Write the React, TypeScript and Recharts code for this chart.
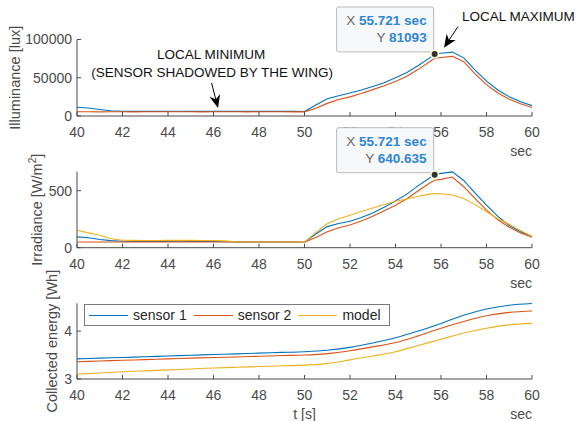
import { LineChart, Line, XAxis, YAxis, ReferenceDot, Legend } from 'recharts'

// time axis for the illuminance / irradiance panels (sec)
const time = [
	40, 40.5, 41, 41.5, 42, 42.5, 43, 43.5, 44, 44.5, 45, 45.5, 46, 46.5, 47, 47.5, 48, 48.5, 49, 49.5,
	50, 50.5, 51, 51.5, 52, 52.5, 53, 53.5, 54, 54.5, 55, 55.5, 55.721, 56, 56.5, 57, 57.5, 58, 58.5, 59, 59.5, 60,
]
const lux1 = [
	11400, 10500, 8500, 6800, 6200, 6100, 6000, 6100, 6000, 6200, 6100, 6000, 6000, 6100, 6000, 6000, 6100, 6000, 6000, 6000,
	5800, 14500, 22500, 26500, 30000, 34000, 38500, 43500, 50000, 57000, 66000, 76000, 81093, 82000, 83500, 76000, 60000, 45500, 34000, 25000, 18500, 13500,
]
const lux2 = [
	5500, 5500, 5400, 5500, 5500, 5400, 5500, 5500, 5600, 5500, 5500, 5400, 5500, 5500, 5500, 5400, 5500, 5500, 5500, 5400,
	5400, 10000, 16500, 21500, 25000, 29500, 34500, 39500, 45000, 52000, 61000, 71000, 75400, 76500, 78000, 71000, 55000, 41000, 30000, 22000, 16000, 11000,
]
const irr1 = [
	95, 88, 72, 62, 56, 55, 55, 55, 55, 56, 55, 55, 55, 52, 50, 50, 50, 50, 50, 50,
	48, 120, 185, 212, 232, 265, 305, 355, 410, 470, 545, 612, 640.635, 652, 665, 590, 480, 373, 275, 195, 140, 100,
]
const irr2 = [
	50, 50, 50, 50, 50, 50, 50, 50, 50, 50, 50, 50, 50, 50, 50, 50, 50, 50, 50, 50,
	48, 90, 140, 175, 200, 235, 275, 325, 372, 430, 500, 568, 592, 600, 620, 535, 430, 330, 245, 180, 130, 92,
]
const irrModel = [
	153, 130, 110, 78, 66, 64, 63, 63, 64, 66, 64, 63, 63, 60, 52, 50, 50, 50, 50, 50,
	48, 135, 210, 255, 285, 318, 348, 380, 408, 428, 452, 470, 475, 473, 463, 432, 378, 315, 255, 205, 150, 100,
]

// collected energy panel
const energyTime = [40, 41, 42, 43, 44, 45, 46, 47, 48, 49, 50, 51, 52, 53, 54, 55, 56, 57, 58, 59, 60]
const energy1 = [3.42, 3.435, 3.45, 3.465, 3.48, 3.495, 3.51, 3.525, 3.54, 3.555, 3.57, 3.6, 3.66, 3.75, 3.86, 4.0, 4.16, 4.33, 4.46, 4.54, 4.575]
const energy2 = [3.36, 3.375, 3.39, 3.405, 3.42, 3.435, 3.45, 3.46, 3.475, 3.49, 3.5, 3.53, 3.59, 3.67, 3.76, 3.9, 4.06, 4.2, 4.32, 4.39, 4.42]
const energyModel = [3.1, 3.125, 3.15, 3.17, 3.19, 3.21, 3.23, 3.245, 3.26, 3.275, 3.29, 3.32, 3.4, 3.48, 3.57, 3.7, 3.83, 3.96, 4.06, 4.13, 4.16]

const timeTicks = [40, 42, 44, 46, 48, 50, 52, 54, 56, 58, 60]
const luxTicks = [0, 50000, 100000]
const irrTicks = [0, 500]
const energyTicks = [3, 4]
const seriesNames = ['sensor 1', 'sensor 2', 'model']
const colors = ['#0072BD', '#D95319', '#EDB120']

const tipX = 55.721
const tipLux = 81093
const tipIrr = 640.635

const luxData = time.map((t, i) => ({ t, s1: lux1[i], s2: lux2[i] }))
const irrData = time.map((t, i) => ({ t, s1: irr1[i], s2: irr2[i], m: irrModel[i] }))
const energyData = energyTime.map((t, i) => ({ t, s1: energy1[i], s2: energy2[i], m: energyModel[i] }))

const font = '"Liberation Sans", Arial, Helvetica, sans-serif'
const ink = '#4a4a4a'
const tickStyle = { fontSize: 14, fill: ink, fontFamily: font }

const Arrow = ({ x1, y1, x2, y2 }: { x1: number; y1: number; x2: number; y2: number }) => {
	const a = Math.atan2(y2 - y1, x2 - x1)
	const c = Math.cos(a)
	const s = Math.sin(a)
	const len = 13
	const half = 5.5
	const bx = x2 - len * c
	const by = y2 - len * s
	const nx = x2 - len * 0.7 * c
	const ny = y2 - len * 0.7 * s
	const pts = [
		[x2, y2],
		[bx - s * half, by + c * half],
		[nx, ny],
		[bx + s * half, by - c * half],
	]
	return (
		<g>
			<line x1={x1} y1={y1} x2={nx} y2={ny} stroke="#000" strokeWidth={1} />
			<polygon points={pts.map((p) => p.join(',')).join(' ')} fill="#000" />
		</g>
	)
}

const MinNote = (p: any) => (
	<g fontFamily={font} fontSize={13.5} fill="#111">
		<text x={p.cx - 7} y={p.cy - 53} textAnchor="middle" dominantBaseline="central">LOCAL MINIMUM</text>
		<text x={p.cx - 6} y={p.cy - 35.5} textAnchor="middle" dominantBaseline="central">(SENSOR SHADOWED BY THE WING)</text>
		<Arrow x1={p.cx - 6.5} y1={p.cy - 25} x2={p.cx} y2={p.cy} />
	</g>
)

const MaxNote = (p: any) => (
	<g fontFamily={font} fontSize={13.5} fill="#111">
		<text x={p.cx + 18} y={p.cy - 31.5} textAnchor="start" dominantBaseline="central">LOCAL MAXIMUM</text>
		<Arrow x1={p.cx + 14} y1={p.cy - 21} x2={p.cx} y2={p.cy} />
	</g>
)

const dataTip = (yText: string) => (p: any) => (
	<g fontFamily={font} fontSize={13.5}>
		<rect x={p.cx - 98} y={p.cy - 47} width={97} height={45} rx={2} fill="#f7f8fa" stroke="#b9b9b9" />
		<text x={p.cx - 8} y={p.cy - 34} textAnchor="end" dominantBaseline="central">
			<tspan fill="#666">X </tspan>
			<tspan fill="#2f86d3" fontWeight="bold">{tipX} sec</tspan>
		</text>
		<text x={p.cx - 8} y={p.cy - 17} textAnchor="end" dominantBaseline="central">
			<tspan fill="#666">Y </tspan>
			<tspan fill="#2f86d3" fontWeight="bold">{yText}</tspan>
		</text>
		<circle cx={p.cx} cy={p.cy} r={4.5} fill="#fffbd0" />
		<circle cx={p.cx} cy={p.cy} r={3} fill="#333" />
	</g>
)

const yLabel = (cx: number, node: any) => (props: any) => {
	const vb = props.viewBox
	const cy = vb.y + vb.height / 2
	return (
		<text x={cx} y={cy} transform={`rotate(-90 ${cx} ${cy})`} textAnchor="middle" dominantBaseline="central" fontFamily={font} fontSize={14.5} fill={ink}>
			{node}
		</text>
	)
}

const xLabel = (withTitle: boolean) => (props: any) => {
	const vb = props.viewBox
	return (
		<g fontFamily={font} fontSize={14} fill={ink}>
			<text x={vb.x + vb.width} y={vb.y + 35} textAnchor="end" dominantBaseline="central">sec</text>
			{withTitle && (
				<text x={vb.x + vb.width / 2} y={vb.y + 35} textAnchor="middle" dominantBaseline="central">t [s]</text>
			)}
		</g>
	)
}

const renderLegend = () => (
	<div
		style={{
			display: 'flex',
			alignItems: 'center',
			height: 22,
			boxSizing: 'border-box',
			border: '1px solid #7a7a7a',
			background: '#fff',
			padding: '0 6px 0 4px',
			fontFamily: font,
			fontSize: 14,
			color: '#262626',
			width: 306,
		}}
	>
		{seriesNames.map((n, i) => (
			<div key={n} style={{ display: 'flex', alignItems: 'center', marginRight: i < 2 ? 7 : 0 }}>
				<span style={{ display: 'inline-block', width: 39, borderTop: `1.2px solid ${colors[i]}`, marginRight: 5 }} />
				{n}
			</div>
		))}
	</div>
)

const xAxisProps = {
	dataKey: 't',
	type: 'number' as const,
	domain: [40, 60],
	ticks: timeTicks,
	tickSize: -4,
	tickMargin: 15,
	tick: tickStyle,
	stroke: ink,
	height: 30,
	allowDataOverflow: true,
}

const yAxisBase = {
	width: 60,
	tickSize: -4,
	tickMargin: 9,
	tick: tickStyle,
	stroke: ink,
}

const lineProps = { strokeWidth: 1.1, dot: false as const, isAnimationActive: false }

const App = () => {
	return (
		<div style={{ position: 'absolute', left: 0, top: 0, width: 577, height: 421, background: '#fff' }}>
			<div style={{ position: 'absolute', left: 0, top: 0 }}>
				<LineChart width={577} height={160} data={luxData} margin={{ top: 39.5, right: 45, left: 17, bottom: 14 }}>
					<XAxis {...xAxisProps} label={{ content: xLabel(false) }} />
					<YAxis {...yAxisBase} domain={[0, 100000]} ticks={luxTicks} label={{ content: yLabel(15, 'Illuminance [lux]') }} />
					<Line dataKey="s1" stroke={colors[0]} {...lineProps} />
					<Line dataKey="s2" stroke={colors[1]} {...lineProps} />
					<ReferenceDot x={46.2} y={10500} shape={MinNote} />
					<ReferenceDot x={56.13} y={89300} shape={MaxNote} />
					<ReferenceDot x={tipX} y={tipLux} shape={dataTip(String(tipLux))} />
				</LineChart>
			</div>
			<div style={{ position: 'absolute', left: 0, top: 120 }}>
				<LineChart width={577} height={170} data={irrData} margin={{ top: 51.7, right: 45, left: 17, bottom: 12.3 }}>
					<XAxis {...xAxisProps} label={{ content: xLabel(false) }} />
					<YAxis
						{...yAxisBase}
						domain={[0, 667]}
						ticks={irrTicks}
						label={{
							content: yLabel(
								37,
								<>
									Irradiance [W/m
									<tspan dy={-5} fontSize={10}>2</tspan>
									<tspan dy={5}>]</tspan>
								</>,
							),
						}}
					/>
					<Line dataKey="s1" stroke={colors[0]} {...lineProps} />
					<Line dataKey="s2" stroke={colors[1]} {...lineProps} />
					<Line dataKey="m" stroke={colors[2]} {...lineProps} />
					<ReferenceDot x={tipX} y={tipIrr} shape={dataTip(String(tipIrr))} />
				</LineChart>
			</div>
			<div style={{ position: 'absolute', left: 0, top: 255 }}>
				<LineChart width={577} height={166} data={energyData} margin={{ top: 48.3, right: 45, left: 17, bottom: 12 }}>
					<XAxis {...xAxisProps} label={{ content: xLabel(true) }} />
					<YAxis {...yAxisBase} domain={[3, 4.58]} ticks={energyTicks} label={{ content: yLabel(52, 'Collected energy [Wh]') }} />
					<Legend
						layout="horizontal"
						verticalAlign="middle"
						align="center"
						content={renderLegend}
						wrapperStyle={{ left: 84, top: 49, width: 306 }}
					/>
					<Line type="monotone" dataKey="s1" name={seriesNames[0]} stroke={colors[0]} {...lineProps} />
					<Line type="monotone" dataKey="s2" name={seriesNames[1]} stroke={colors[1]} {...lineProps} />
					<Line type="monotone" dataKey="m" name={seriesNames[2]} stroke={colors[2]} {...lineProps} />
				</LineChart>
			</div>
		</div>
	)
}

export default App
